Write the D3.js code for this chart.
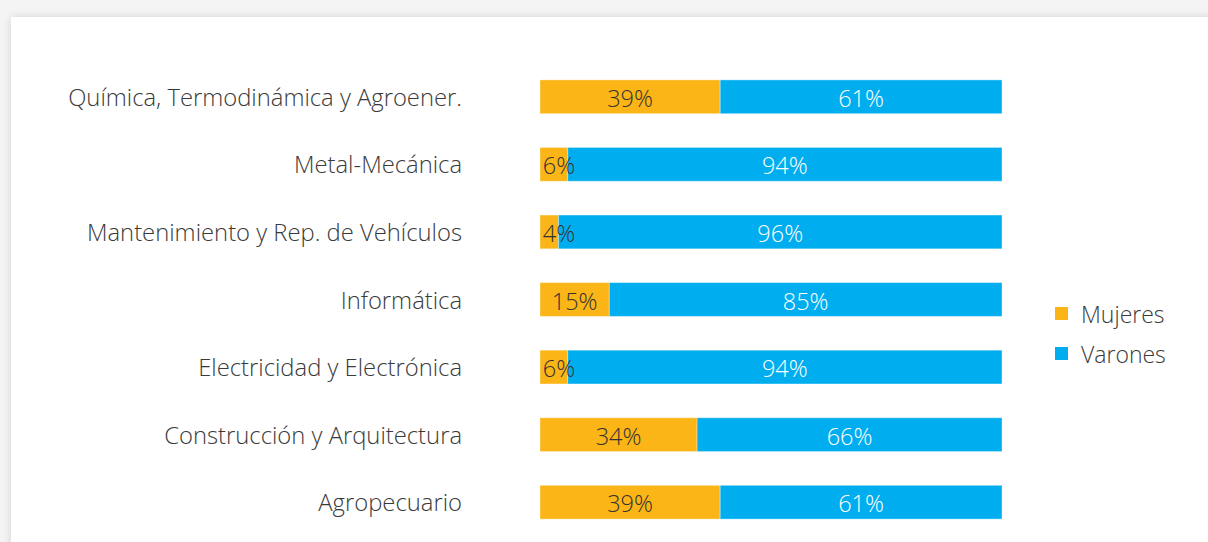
<!DOCTYPE html>
<html>
<head>
<meta charset="utf-8">
<script src="https://cdn.jsdelivr.net/npm/d3@7"></script>
<style>
  html, body { margin: 0; padding: 0; background: #f4f4f4; width: 1208px; height: 542px; overflow: hidden; }
  #card { position: absolute; left: 11px; top: 17px; width: 1220px; height: 560px; background: #fff;
          box-shadow: 0 0 9px rgba(0,0,0,0.13); }
  svg { position: absolute; left: 0; top: 0; }
  text { font-family: "Open Sans", Roboto, sans-serif; font-weight: 300; }
</style>
</head>
<body>
<div id="card"></div>
<svg id="chart" width="1208" height="542"></svg>
<script>
// Data
const categories = [
  "Química, Termodinámica y Agroener.",
  "Metal-Mecánica",
  "Mantenimiento y Rep. de Vehículos",
  "Informática",
  "Electricidad y Electrónica",
  "Construcción y Arquitectura",
  "Agropecuario"
];
const mujeres = [39, 6, 4, 15, 6, 34, 39];
const varones = [61, 94, 96, 85, 94, 66, 61];
const seriesNames = ["Mujeres", "Varones"];
const colors = ["#fbb517", "#00aeef"];

const svg = d3.select("#chart");

const x = d3.scaleLinear().domain([0, 100]).range([540, 1002]);
const y = d3.scaleBand().domain(categories).range([63, 536]).paddingInner(0.5).paddingOuter(0.25);

// one entry per segment
const segs = [];
categories.forEach((c, i) => {
  let acc = 0;
  [mujeres[i], varones[i]].forEach((v, k) => {
    segs.push({ cat: c, k: k, v: v, x0: x(acc), x1: x(acc + v) });
    acc += v;
  });
});

// category labels
svg.append("g").selectAll("text")
  .data(categories)
  .enter().append("text")
  .attr("x", 462)
  .attr("y", d => y(d) + y.bandwidth() / 2)
  .attr("text-anchor", "end")
  .attr("dominant-baseline", "central")
  .attr("font-size", 23.8)
  .attr("fill", "#3a3a3a")
  .text(d => d);

// stacked bars
svg.append("g").selectAll("rect")
  .data(segs)
  .enter().append("rect")
  .attr("x", d => d.x0)
  .attr("y", d => y(d.cat))
  .attr("width", d => d.x1 - d.x0)
  .attr("height", y.bandwidth())
  .attr("fill", d => colors[d.k])
  .attr("stroke", "rgba(255,255,255,0.35)")
  .attr("stroke-width", 1);

// value labels, drawn on top; pushed right if they would leave the bar start
svg.append("g").selectAll("text")
  .data(segs)
  .enter().append("text")
  .attr("x", d => Math.max((d.x0 + d.x1) / 2, x(0) + 19))
  .attr("y", d => y(d.cat) + y.bandwidth() / 2 + 1)
  .attr("text-anchor", "middle")
  .attr("dominant-baseline", "central")
  .attr("font-size", 23.5)
  .attr("fill", d => d.k === 0 ? "#333" : "#fff")
  .text(d => d.v + "%");

// legend
const legend = svg.append("g").selectAll("g")
  .data(seriesNames)
  .enter().append("g")
  .attr("transform", (d, i) => `translate(1055, ${314 + i * 40})`);
legend.append("rect")
  .attr("x", 0).attr("y", -7)
  .attr("width", 13).attr("height", 13)
  .attr("fill", (d, i) => colors[i]);
legend.append("text")
  .attr("x", 26).attr("y", 0)
  .attr("dominant-baseline", "central")
  .attr("font-size", 23)
  .attr("fill", "#3a3a3a")
  .text(d => d);
</script>
</body>
</html>
